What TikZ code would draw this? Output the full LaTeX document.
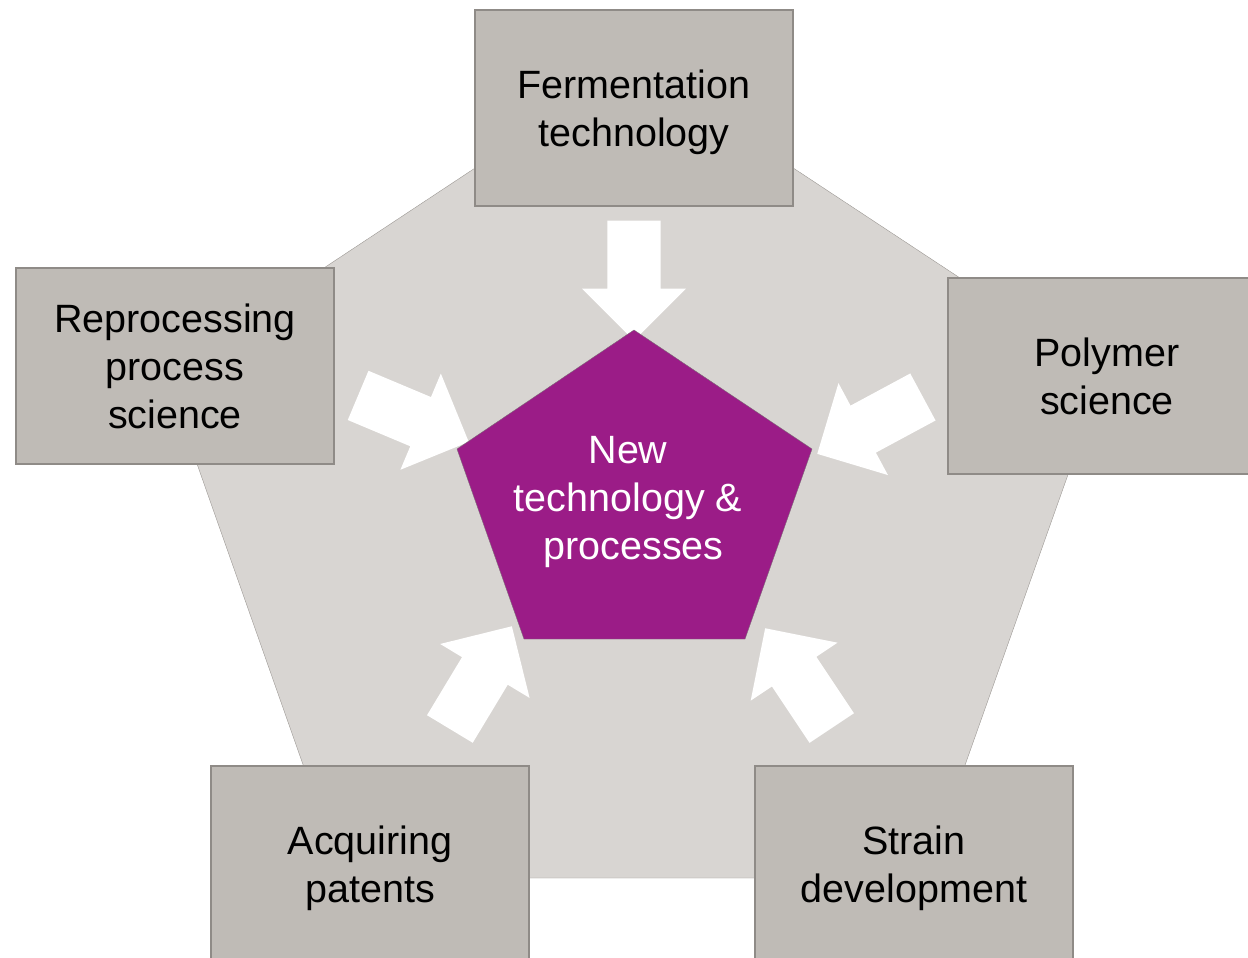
\documentclass[tikz,border=0pt]{standalone}
\usepackage{fontspec}
\setmainfont{Liberation Sans}
\usetikzlibrary{shapes.arrows}

\definecolor{ringgray}{HTML}{D8D5D2}
\definecolor{ringline}{HTML}{9C9894}
\definecolor{boxgray}{HTML}{BFBBB6}
\definecolor{boxline}{HTML}{8F8B87}
\definecolor{coreline}{HTML}{7E6A78}
\definecolor{corepurple}{HTML}{9B1C87}

\tikzset{
  topic/.style={draw=boxline, line width=1.5pt, fill=boxgray, minimum width=318pt,
                minimum height=196pt, inner sep=0pt, align=center, text depth=0pt,
                font=\fontsize{39.5pt}{48pt}\selectfont},
  inarrow/.style={single arrow, fill=white, draw=none, anchor=tip,
                  inner xsep=0pt, inner ysep=26.5pt, minimum height=120pt,
                  single arrow head extend=25.5pt, single arrow tip angle=90},
  core/.style={text=white, align=center, inner sep=0pt, text depth=0pt,
               font=\fontsize{39.5pt}{48pt}\selectfont}
}

\begin{document}
\begin{tikzpicture}[x=1pt, y=-1pt]

        \useasboundingbox (0,0) rectangle (1248,958);
        \clip (0,0) rectangle (1248,958);

        %Outer pentagon
        \draw [ringline, fill=ringgray] (634,63) -- (1104,373) -- (925,878)
              -- (343,878) -- (165,373) -- cycle;

        %Topic boxes
        \node [topic] (ferment) at (634,108)  {Fermentation\\technology};
        \node [topic] (reproc)  at (175,366)  {Reprocessing\\process\\science};
        \node [topic] (polymer) at (1107,376) {Polymer\\science};
        \node [topic] (patents) at (370,864)  {Acquiring\\patents};
        \node [topic] (strain)  at (914,864)  {Strain\\development};

        %Inward arrows
        \node [inarrow, rotate=-90]    (fromtop)   at (634,341) {};
        \node [inarrow, rotate=-22.8]  (fromleft)  at (469,442) {};
        \node [inarrow, rotate=-151.7] (fromright) at (817,454) {};
        \node [inarrow, rotate=58.9]   (fromlowl)  at (512,626) {};
        \node [inarrow, rotate=123.7]  (fromlowr)  at (765,628) {};

        %Inner pentagon
        \draw [coreline, fill=corepurple] (634,330) -- (812,449) -- (745,639)
              -- (524,639) -- (457,449) -- cycle;
        \node [core] (core) at (628,498) {New\\technology \&\\~processes};

\end{tikzpicture}
\end{document}
